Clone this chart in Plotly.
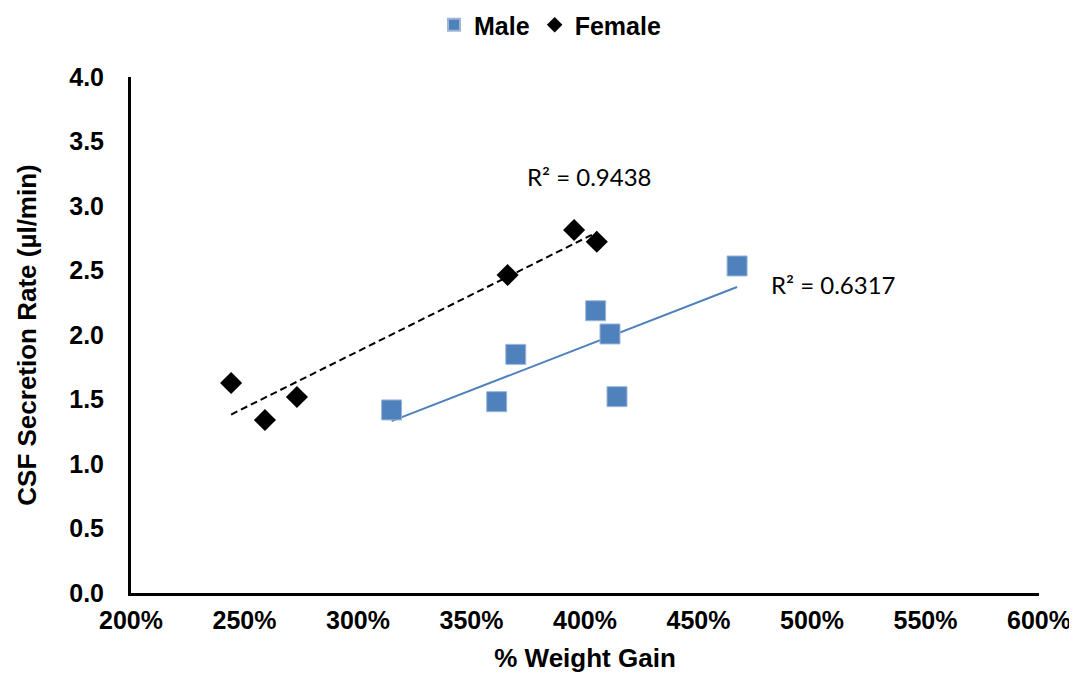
import numpy as np
import plotly.graph_objects as go

# Data (x as fraction: 2.0 = 200%)
male_x = [3.148, 3.611, 3.695, 4.047, 4.110, 4.141, 4.670]
male_y = [1.419, 1.483, 1.850, 2.188, 2.008, 1.522, 2.535]
female_x = [2.441, 2.590, 2.731, 3.659, 3.952, 4.052]
female_y = [1.628, 1.341, 1.519, 2.465, 2.814, 2.723]
r2_female_text = "R² = 0.9438"
r2_male_text = "R² = 0.6317"
x_ticks = [2.0, 2.5, 3.0, 3.5, 4.0, 4.5, 5.0, 5.5, 6.0]
y_ticks = [0.0, 0.5, 1.0, 1.5, 2.0, 2.5, 3.0, 3.5, 4.0]

BLUE = "#4F81BD"
W, H = 1069, 665


def trend(xs, ys):
    m, b = np.polyfit(xs, ys, 1)
    xx = np.array([min(xs), max(xs)])
    return xx, m * xx + b


fig = go.Figure()

mx, my = trend(male_x, male_y)
fx, fy = trend(female_x, female_y)

fig.add_trace(go.Scatter(x=mx, y=my, mode="lines", showlegend=False,
                         line=dict(color=BLUE, width=2), hoverinfo="skip"))
fig.add_trace(go.Scatter(x=fx, y=fy, mode="lines", showlegend=False,
                         line=dict(color="black", width=2, dash="7px,4px"), hoverinfo="skip"))

fig.add_trace(go.Scatter(x=male_x, y=male_y, mode="markers", name="Male",
                         marker=dict(symbol="square", size=20, color=BLUE,
                                     line=dict(color="#9DB6D8", width=1))))
fig.add_trace(go.Scatter(x=female_x, y=female_y, mode="markers", name="Female",
                         marker=dict(symbol="diamond", size=17, color="black",
                                     line=dict(width=0))))

fig.add_annotation(x=4.022, y=3.23, text=r2_female_text, showarrow=False,
                   font=dict(family="Lato, Open Sans, sans-serif", size=24, color="black"))
fig.add_annotation(x=5.093, y=2.395, text=r2_male_text, showarrow=False,
                   font=dict(family="Lato, Open Sans, sans-serif", size=24, color="black"))

tick_font = dict(family="Liberation Sans, Arial, sans-serif", size=25, color="black")
title_font = dict(family="Liberation Sans, Arial, sans-serif", size=26, color="black")

fig.update_layout(
    width=W, height=H,
    margin=dict(l=123, r=38, t=69, b=80),
    paper_bgcolor="white", plot_bgcolor="white",
    font=dict(family="Liberation Sans, Arial, sans-serif", color="black"),
    legend=dict(orientation="h", xref="container", yref="container",
                x=542 / W, y=1 - 17 / H, xanchor="center", yanchor="middle",
                font=dict(family="Liberation Sans, Arial, sans-serif", size=25, color="black", weight="bold"),
                itemsizing="constant", tracegroupgap=0),
    xaxis=dict(range=[2.0, 6.0], tickvals=x_ticks, tickformat=".0%",
               showgrid=False, zeroline=False, showline=True, linecolor="black", linewidth=3,
               ticks="", ticklabelstandoff=3, automargin=False,
               tickfont=dict(**tick_font, weight="bold"),
               title=dict(text="<b>% Weight Gain</b>", font=title_font, standoff=21)),
    yaxis=dict(range=[0.0, 4.0], tickvals=y_ticks, tickformat=".1f",
               showgrid=False, zeroline=False, showline=True, linecolor="black", linewidth=3,
               ticks="", ticklabelstandoff=19, automargin=False,
               tickfont=dict(**tick_font, weight="bold"),
               title=dict(text="<b>CSF Secretion Rate (µl/min)</b>", font=title_font, standoff=26)),
)

fig.write_html("out.html")
